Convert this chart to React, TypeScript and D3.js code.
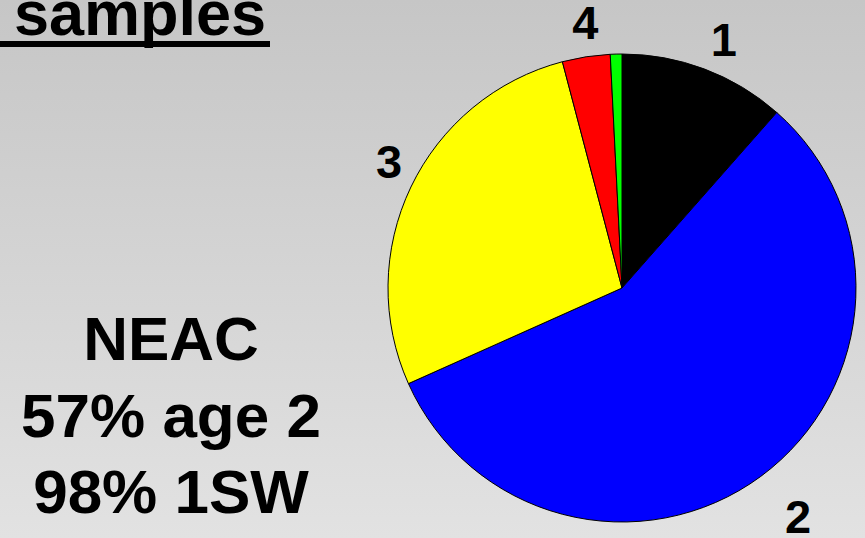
import React from "react";
import * as d3 from "d3";

// Age composition of NEAC samples (share of each sea-age class, %)
const classes = ["1", "2", "3", "4", ""];
const shares = [11.5, 56.8, 27.6, 3.3, 0.8];
const colors = ["#000000", "#0000ff", "#ffff00", "#ff0000", "#00ff00"];
const summaryLines = ["NEAC", "57% age 2", "98% 1SW"];

const W = 865;
const H = 538;
const cx = 622;
const cy = 288;
const radius = 234;
// label distance from centre and small manual nudges, per slice
const labelRadius = [268, 285, 266, 266, 0];
const labelNudge: [number, number][] = [
  [7, 2],
  [7, -1],
  [7, -12],
  [4, -3],
  [0, 0],
];

export default function App() {
  const pie = d3
    .pie<number>()
    .sort(null)
    .value((d) => d)
    .startAngle(0)
    .endAngle(2 * Math.PI);
  const arcs = pie(shares);
  const arc = d3.arc<d3.PieArcDatum<number>>().innerRadius(0).outerRadius(radius);

  return (
    <svg
      width={W}
      height={H}
      style={{ position: "absolute", left: 0, top: 0 }}
      fontFamily="'Liberation Sans', Arial, sans-serif"
      fontWeight="bold"
    >
      <defs>
        <linearGradient id="bg" x1="0" y1="0" x2="0" y2="1">
          <stop offset="0" stopColor="#c6c6c6" />
          <stop offset="1" stopColor="#e2e2e2" />
        </linearGradient>
      </defs>
      <rect x={0} y={0} width={W} height={H} fill="url(#bg)" />

      <text x={14} y={35} fontSize={63} fill="#000">
        samples
      </text>
      <rect x={0} y={41} width={270} height={6} fill="#000" />

      <g transform={`translate(${cx},${cy})`}>
        {arcs.map((a, i) => (
          <path key={i} d={arc(a) ?? ""} fill={colors[i]} stroke="#000" strokeWidth={1} />
        ))}
        {arcs.map((a, i) => {
          if (!classes[i]) return null;
          const mid = (a.startAngle + a.endAngle) / 2;
          const r = labelRadius[i];
          const x = Math.sin(mid) * r + labelNudge[i][0];
          const y = -Math.cos(mid) * r + labelNudge[i][1];
          return (
            <text
              key={"l" + i}
              x={x}
              y={y}
              textAnchor="middle"
              dominantBaseline="central"
              fontSize={47}
              fill="#000"
            >
              {classes[i]}
            </text>
          );
        })}
      </g>

      {summaryLines.map((t, i) => (
        <text key={t} x={171} y={360 + i * 76.5} textAnchor="middle" fontSize={62} fill="#000">
          {t}
        </text>
      ))}
    </svg>
  );
}
